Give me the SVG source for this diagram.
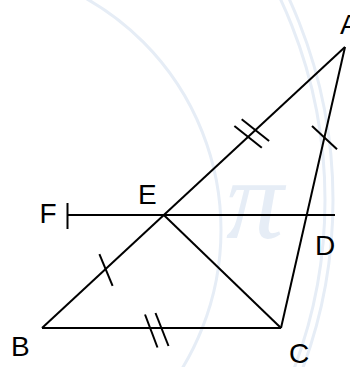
<svg xmlns="http://www.w3.org/2000/svg" width="350" height="367" viewBox="0 0 350 367">
  <style>
    .wm { fill: none; stroke: #e6edf6; stroke-width: 3; }
    .wmt { fill: #e6edf6; font-family: "Liberation Serif", serif; font-style: italic; }
    .ln { stroke: #000; stroke-width: 2; fill: none; stroke-linecap: butt; }
    .tk { stroke: #000; stroke-width: 2; fill: none; }
    .lbl { font-family: "Liberation Sans", Arial, sans-serif; font-size: 28px; fill: #000; }
  </style>
  <rect width="350" height="367" fill="#fff"/>
  <g id="watermark">
    <circle class="wm" cx="-45" cy="230" r="266"/>
    <circle class="wm" cx="-150" cy="200" r="483"/>
    <circle class="wm" cx="-150" cy="200" r="475"/>
    <text class="wmt" x="226" y="238" font-size="115">π</text>
  </g>
  <g id="connectors">
    <line class="ln" x1="345" y1="47" x2="42" y2="328"/>
    <line class="ln" x1="42" y1="328" x2="281" y2="328"/>
    <line class="ln" x1="345" y1="47" x2="281" y2="328"/>
    <line class="ln" x1="163.8" y1="215" x2="281" y2="328"/>
    <line class="ln" x1="67.5" y1="215" x2="335" y2="215"/>
  </g>
  <g id="ticks">
    <line class="tk" x1="67.5" y1="203" x2="67.5" y2="229"/>
    <line class="tk" x1="234.4" y1="126" x2="261.8" y2="147.8"/>
    <line class="tk" x1="241.7" y1="119.2" x2="269.1" y2="141"/>
    <line class="tk" x1="312" y1="126" x2="337" y2="149.3"/>
    <line class="tk" x1="99.4" y1="254.2" x2="112.6" y2="285.8"/>
    <line class="tk" x1="145" y1="314.5" x2="157.5" y2="347.5"/>
    <line class="tk" x1="155.5" y1="313" x2="168.5" y2="346"/>
  </g>
  <g id="node-A"><text class="lbl" x="340" y="34">A</text></g>
  <g id="node-B"><text class="lbl" x="11" y="356">B</text></g>
  <g id="node-C"><text class="lbl" x="289" y="363">C</text></g>
  <g id="node-D"><text class="lbl" x="315" y="255">D</text></g>
  <g id="node-E"><text class="lbl" x="138" y="204">E</text></g>
  <g id="node-F"><text class="lbl" x="39.5" y="223">F</text></g>
</svg>
